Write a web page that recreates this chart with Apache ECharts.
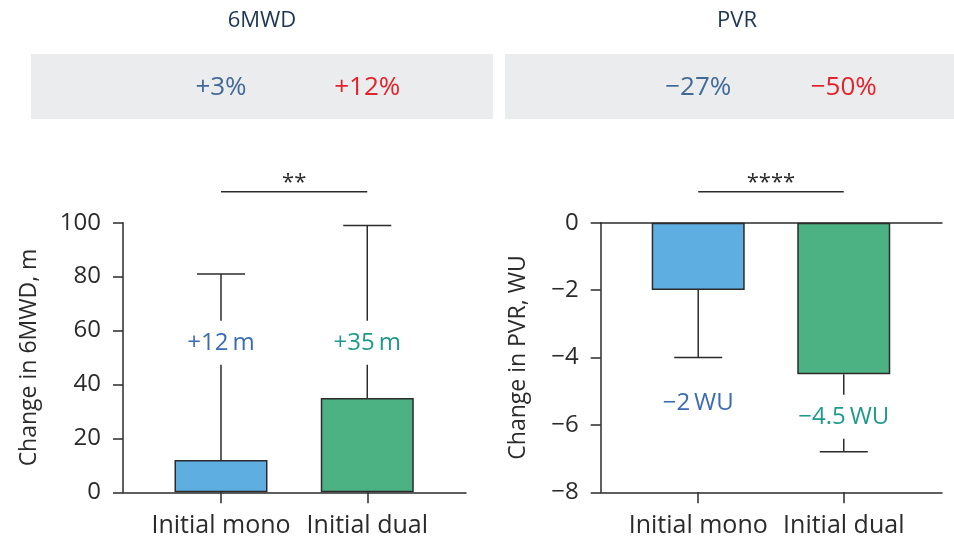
<!DOCTYPE html>
<html>
<head>
<meta charset="utf-8">
<script src="https://cdn.jsdelivr.net/npm/echarts@6/dist/echarts.min.js"></script>
<style>
  html, body { margin: 0; padding: 0; background: #fff; }
  #chart { width: 954px; height: 541px; }
</style>
</head>
<body>
<div id="chart"></div>
<script>
// Groups compared in both panels
const categories = ['Initial mono', 'Initial dual'];

// 6MWD panel: mean change (m) and upper error bar end
const walkChange = [12, 35];
const walkErrorEnd = [81, 99];
const walkPercent = ['+3%', '+12%'];
const walkSignificance = '**';

// PVR panel: mean change (WU) and lower error bar end
const pvrChange = [-2, -4.5];
const pvrErrorEnd = [-4, -6.8];
const pvrPercent = ['\u221227%', '\u221250%'];
const pvrSignificance = '****';

// Axis ranges and tick spacing
const walkAxis = { min: 0, max: 100, interval: 20 };
const pvrAxis = { min: -8, max: 0, interval: 2 };

const FONT = '"Open Sans", "Noto Sans", sans-serif';
const INK = '#2b2b2b';
const barColors = ['#5eaee2', '#4cb183'];
const valueColors = ['#3b6cb2', '#1f9a89'];
const pctColors = ['#416a97', '#e2232b'];

const fmtWalk = v => (v >= 0 ? '+' : '\u2212') + Math.abs(v) + '\u2009m';
const fmtPvr = v => (v >= 0 ? '+' : '\u2212') + Math.abs(v) + '\u2009WU';

const chart = echarts.init(document.getElementById('chart'), null, { renderer: 'canvas' });

function xAxisFor(gridIndex, extra) {
  return Object.assign({
    type: 'value',
    gridIndex: gridIndex,
    min: 0.33,
    max: 2.675,
    splitLine: { show: false },
    axisLine: { show: true, onZero: false, lineStyle: { color: INK, width: 1.5 } },
    axisTick: { show: true, length: 11, customValues: [1, 2], lineStyle: { color: INK, width: 1.5 } },
    axisLabel: {
      customValues: [1, 2],
      formatter: v => categories[Math.round(v) - 1],
      color: INK, fontSize: 25, fontFamily: FONT, margin: 21
    }
  }, extra || {});
}

function yAxisFor(gridIndex, range, name, nameGap) {
  return {
    type: 'value',
    gridIndex: gridIndex,
    min: range.min,
    max: range.max,
    interval: range.interval,
    name: name,
    nameLocation: 'middle',
    nameGap: nameGap,
    nameTextStyle: { color: INK, fontSize: 23, fontFamily: FONT },
    splitLine: { show: false },
    axisLine: { show: true, lineStyle: { color: INK, width: 1.5 } },
    axisTick: { show: true, length: 10, lineStyle: { color: INK, width: 1.5 } },
    axisLabel: {
      color: INK, fontSize: 24, fontFamily: FONT, margin: 22,
      formatter: v => (v < 0 ? '\u2212' + Math.abs(v) : String(v))
    }
  };
}

function barData(values) {
  return values.map((v, i) => ({
    value: [i + 1, v],
    itemStyle: { color: barColors[i], borderColor: INK, borderWidth: 1.5 }
  }));
}

// Whisker, cap and a value label on a white plate that breaks the whisker
function errorSeries(axisIdx, values, ends, labelAt, fmt) {
  return {
    type: 'custom',
    xAxisIndex: axisIdx,
    yAxisIndex: axisIdx,
    z: 5,
    clip: false,
    data: values.map((v, i) => [i + 1, v, ends[i], labelAt[i]]),
    renderItem: (params, api) => {
      const x = api.value(0);
      const from = api.coord([x, api.value(1)]);
      const to = api.coord([x, api.value(2)]);
      const lab = api.coord([x, api.value(3)]);
      const idx = params.dataIndex;
      const line = { stroke: INK, lineWidth: 1.5 };
      return {
        type: 'group',
        children: [
          { type: 'line', shape: { x1: from[0], y1: from[1], x2: to[0], y2: to[1] }, style: line },
          { type: 'line', shape: { x1: to[0] - 24, y1: to[1], x2: to[0] + 24, y2: to[1] }, style: line },
          {
            type: 'text', z2: 10, x: lab[0], y: lab[1],
            style: {
              text: fmt(api.value(1)), fill: valueColors[idx],
              font: '24px ' + FONT, align: 'center', verticalAlign: 'middle',
              backgroundColor: '#fff', padding: [10, 3]
            }
          }
        ]
      };
    }
  };
}

// Comparison bracket with its significance stars above the plot
function bracketSeries(axisIdx, topValue, stars) {
  return {
    type: 'custom',
    xAxisIndex: axisIdx,
    yAxisIndex: axisIdx,
    clip: false,
    data: [[1, 2, topValue]],
    renderItem: (params, api) => {
      const a = api.coord([api.value(0), api.value(2)]);
      const b = api.coord([api.value(1), api.value(2)]);
      const y = a[1] - 31;
      return {
        type: 'group',
        children: [
          { type: 'line', shape: { x1: a[0], y1: y, x2: b[0], y2: y }, style: { stroke: INK, lineWidth: 1.5 } },
          {
            type: 'text', x: (a[0] + b[0]) / 2, y: y - 9,
            style: { text: stars, fill: INK, font: '22px ' + FONT, align: 'center', verticalAlign: 'middle' }
          }
        ]
      };
    }
  };
}

const option = {
  animation: false,
  backgroundColor: '#fff',
  grid: [
    { left: 123, right: 488, top: 222.7, bottom: 48.7 },
    { left: 600.7, right: 12, top: 222.7, bottom: 48.7 }
  ],
  xAxis: [
    xAxisFor(0),
    xAxisFor(1),
    xAxisFor(1, {
      position: 'top',
      axisTick: { show: false },
      axisLabel: { show: false }
    })
  ],
  yAxis: [
    yAxisFor(0, walkAxis, 'Change in 6MWD, m', 82),
    yAxisFor(1, pvrAxis, 'Change in PVR, WU', 71)
  ],
  series: [
    { type: 'bar', xAxisIndex: 0, yAxisIndex: 0, barWidth: 93, data: barData(walkChange) },
    { type: 'bar', xAxisIndex: 1, yAxisIndex: 1, barWidth: 93, data: barData(pvrChange) },
    errorSeries(0, walkChange, walkErrorEnd, [55.5, 55.5], fmtWalk),
    errorSeries(1, pvrChange, pvrErrorEnd, [-5.36, -5.76], fmtPvr),
    bracketSeries(0, walkAxis.max, walkSignificance),
    bracketSeries(1, pvrAxis.max, pvrSignificance)
  ]
};

chart.setOption(option);

// Panel headers: titles and the grey strip of percentage changes above each group
const headerY = 88;
const graphics = [
  { type: 'rect', shape: { x: 31, y: 54, width: 462, height: 65 }, style: { fill: '#ebeced' }, z: -1 },
  { type: 'rect', shape: { x: 505, y: 54, width: 449, height: 65 }, style: { fill: '#ebeced' }, z: -1 },
  { type: 'text', x: 262, y: 21, style: { text: '6MWD', fill: '#1f3550', font: '22px ' + FONT, align: 'center', verticalAlign: 'middle' } },
  { type: 'text', x: 737, y: 21, style: { text: 'PVR', fill: '#1f3550', font: '22px ' + FONT, align: 'center', verticalAlign: 'middle' } }
];
[[0, walkPercent], [1, pvrPercent]].forEach(([axisIdx, labels]) => {
  labels.forEach((t, i) => {
    const px = chart.convertToPixel({ xAxisIndex: axisIdx }, i + 1);
    graphics.push({
      type: 'text', x: px, y: headerY,
      style: { text: t, fill: pctColors[i], font: '26px ' + FONT, align: 'center', verticalAlign: 'middle' }
    });
  });
});
chart.setOption({ graphic: graphics });
</script>
</body>
</html>
